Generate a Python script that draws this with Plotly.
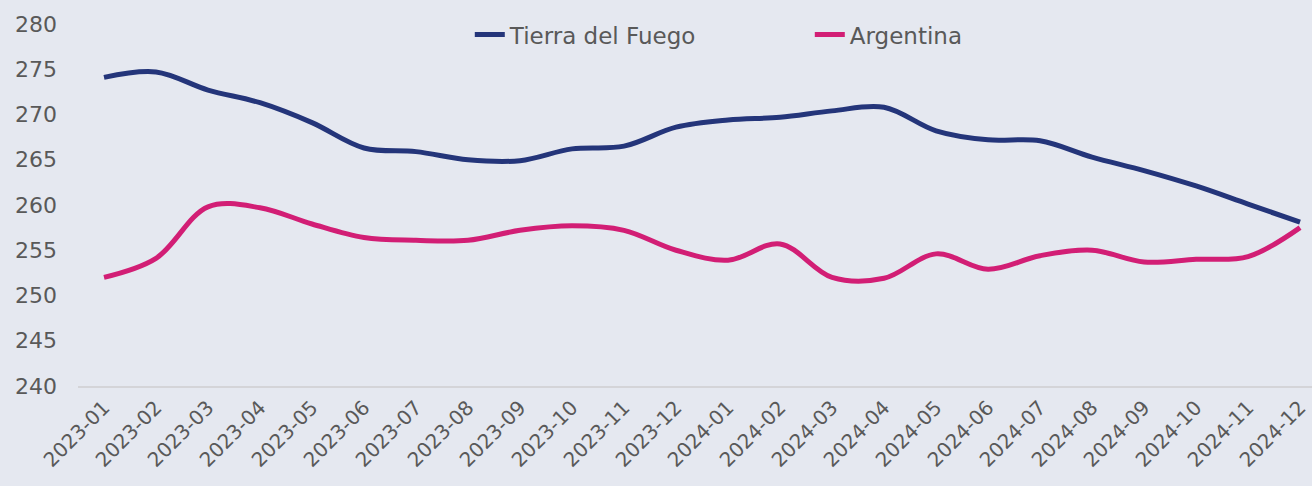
import plotly.graph_objects as go

months = [
    '2023-01', '2023-02', '2023-03', '2023-04', '2023-05', '2023-06',
    '2023-07', '2023-08', '2023-09', '2023-10', '2023-11', '2023-12',
    '2024-01', '2024-02', '2024-03', '2024-04', '2024-05', '2024-06',
    '2024-07', '2024-08', '2024-09', '2024-10', '2024-11', '2024-12',
]
tierra_del_fuego = [
    274.1, 274.7, 272.7, 271.3, 269.1, 266.3, 265.9, 265.0, 264.9, 266.2, 266.5, 268.6,
    269.4, 269.7, 270.4, 270.8, 268.2, 267.2, 267.1, 265.3, 263.8, 262.1, 260.1, 258.1,
]
argentina = [
    252.0, 254.1, 259.8, 259.7, 257.9, 256.4, 256.1, 256.1, 257.2, 257.7, 257.2, 255.0,
    253.9, 255.7, 252.0, 251.9, 254.6, 252.9, 254.4, 255.0, 253.7, 254.0, 254.3, 257.5,
]

BG = '#e5e8f0'
TEXT = '#595959'
FONT = 'DejaVu Sans, sans-serif'

fig = go.Figure()
fig.add_trace(go.Scatter(
    x=months, y=tierra_del_fuego, name='Tierra del Fuego', mode='lines',
    line={'color': '#24357a', 'width': 5, 'shape': 'spline', 'smoothing': 1.0},
))
fig.add_trace(go.Scatter(
    x=months, y=argentina, name='Argentina', mode='lines',
    line={'color': '#d21e75', 'width': 5, 'shape': 'spline', 'smoothing': 1.0},
))

fig.update_layout(
    width=1312, height=486,
    paper_bgcolor=BG, plot_bgcolor=BG,
    font={'family': FONT, 'color': TEXT, 'size': 20},
    margin={'l': 78, 'r': 0, 't': 24, 'b': 100},
    showlegend=True,
    legend={
        'orientation': 'h', 'x': 0.3175, 'xanchor': 'left',
        'y': 1.03, 'yanchor': 'top',
        'bgcolor': 'rgba(0,0,0,0)', 'font': {'size': 23, 'color': TEXT},
        'entrywidth': 295, 'entrywidthmode': 'pixels',
    },
    xaxis={
        'type': 'category', 'range': [-0.5, 23.23],
        'tickangle': -45, 'showgrid': False, 'zeroline': False,
        'showline': True, 'linecolor': '#d4d4d8', 'linewidth': 2,
        'ticks': '', 'tickfont': {'size': 20, 'color': TEXT},
    },
    yaxis={
        'range': [240, 280], 'dtick': 5, 'showgrid': False, 'zeroline': False,
        'ticks': '', 'ticklabelstandoff': 20,
        'tickfont': {'size': 22, 'color': TEXT},
    },
)

# drop the default page margin so the figure fills the window
fig.write_html(
    'out.html',
    config={'displayModeBar': False},
    post_script="document.body.style.margin='0';",
)
